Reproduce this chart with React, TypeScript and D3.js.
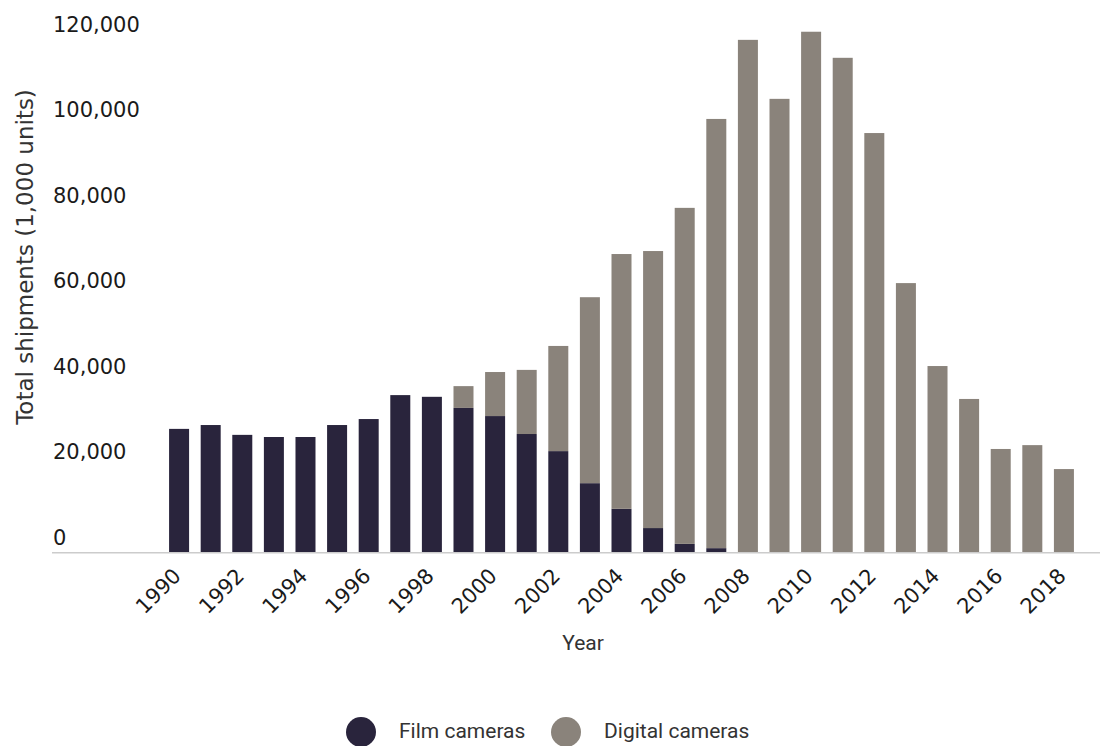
import React from "react";
import * as d3 from "d3";

const years = [
  "1990", "1991", "1992", "1993", "1994", "1995", "1996", "1997", "1998", "1999",
  "2000", "2001", "2002", "2003", "2004", "2005", "2006", "2007", "2008", "2009",
  "2010", "2011", "2012", "2013", "2014", "2015", "2016", "2017", "2018",
];
const film = [
  28800, 29700, 27400, 26900, 26900, 29700, 31100, 36700, 36300, 33700,
  31800, 27600, 23600, 16100, 10100, 5600, 1900, 900, 0, 0,
  0, 0, 0, 0, 0, 0, 0, 0, 0,
];
const digital = [
  0, 0, 0, 0, 0, 0, 0, 0, 0, 5100,
  10300, 15000, 24600, 43500, 59600, 64800, 78600, 100400, 119800, 106000,
  121700, 115600, 98000, 62900, 43500, 35800, 24100, 25000, 19400,
];
const yTicks = [0, 20000, 40000, 60000, 80000, 100000, 120000];
const xTickLabels = ["1990", "1992", "1994", "1996", "1998", "2000", "2002", "2004", "2006", "2008", "2010", "2012", "2014", "2016", "2018"];
const seriesKeys = ["film", "digital"];
const seriesNames = ["Film cameras", "Digital cameras"];
const colors = ["#29243c", "#8a837b"];

const W = 1104;
const H = 746;
const baseY = 552;
const topY = 39;

export default function App() {
  const rows = years.map((y, i) => ({ year: y, film: film[i], digital: digital[i] }));
  const x = d3.scaleBand<string>().domain(years).range([163.3, 1079.7]).paddingInner(0.367).paddingOuter(0.183);
  const y = d3.scaleLinear().domain([0, 120000]).range([baseY, topY]);
  const stack = d3.stack<any>().keys(seriesKeys);
  const series = stack(rows);
  const fmt = d3.format(",");
  const tickFont = "'DejaVu Sans', sans-serif";
  const labelFont = "Roboto, 'Noto Sans', sans-serif";

  return (
    <svg width={W} height={H} style={{ position: "absolute", left: 0, top: 0, background: "#fff" }}>
      {series.map((s, si) => (
        <g key={seriesKeys[si]} fill={colors[si]}>
          {s.map((d, i) => {
            const h = y(d[0]) - y(d[1]);
            if (h <= 0) return null;
            return <rect key={i} x={x(years[i])} y={y(d[1])} width={x.bandwidth()} height={h} />;
          })}
        </g>
      ))}
      <line x1={52} x2={1100} y1={baseY + 0.75} y2={baseY + 0.75} stroke="#cccccc" strokeWidth={1.5} />
      {yTicks.map((t) => (
        <text key={t} x={53} y={y(t) - 7.5} fontFamily={tickFont} fontSize={21} fill="#1a1a1a">
          {fmt(t)}
        </text>
      ))}
      {xTickLabels.map((lab) => {
        const cx = (x(lab) as number) + x.bandwidth() / 2;
        return (
          <text
            key={lab}
            transform={`translate(${cx - 2},${572}) rotate(-45)`}
            textAnchor="end"
            dy="0.35em"
            fontFamily={tickFont}
            fontSize={21}
            fill="#1a1a1a"
          >
            {lab}
          </text>
        );
      })}
      <text
        transform={`translate(33,${257}) rotate(-90)`}
        textAnchor="middle"
        fontFamily={tickFont}
        fontSize={23}
        fill="#333"
      >
        Total shipments (1,000 units)
      </text>
      <text x={583} y={650} textAnchor="middle" fontFamily={labelFont} fontSize={21} fill="#333">
        Year
      </text>
      {seriesNames.map((n, i) => {
        const cx = i === 0 ? 361 : 566;
        return (
          <g key={n}>
            <circle cx={cx} cy={732} r={15} fill={colors[i]} />
            <text x={cx + 38} y={738} fontFamily={labelFont} fontSize={21} fill="#333">
              {n}
            </text>
          </g>
        );
      })}
    </svg>
  );
}
